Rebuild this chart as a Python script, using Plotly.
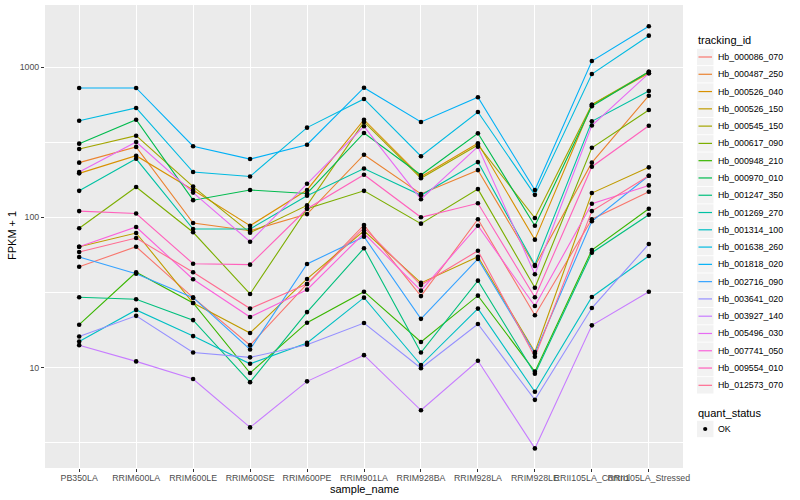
import plotly.graph_objects as go

# ---------------- data (FPKM + 1) ----------------
sample_names = ["PB350LA", "RRIM600LA", "RRIM600LE", "RRIM600SE", "RRIM600PE",
                "RRIM901LA", "RRIM928BA", "RRIM928LA", "RRIM928LE",
                "RRII105LA_Control", "RRII105LA_Stressed"]

tracking_ids = ["Hb_000086_070", "Hb_000487_250", "Hb_000526_040", "Hb_000526_150",
                "Hb_000545_150", "Hb_000617_090", "Hb_000948_210", "Hb_000970_010",
                "Hb_001247_350", "Hb_001269_270", "Hb_001314_100", "Hb_001638_260",
                "Hb_001818_020", "Hb_002716_090", "Hb_003641_020", "Hb_003927_140",
                "Hb_005496_030", "Hb_007741_050", "Hb_009554_010", "Hb_012573_070"]

hb_000086_070 = [46.9, 63.7, 29.2, 14.1, 36.0, 88.9, 29.9, 97.0, 22.3, 97.0, 148]
hb_000487_250 = [231, 294, 91.6, 81.4, 105, 261, 143, 206, 47.4, 231, 644]
hb_000526_040 = [196, 257, 152, 87.9, 152, 446, 186, 311, 71.0, 561, 908]
hb_000526_150 = [63.7, 78.6, 26.9, 17.0, 38.9, 81.4, 36.6, 54.7, 12.7, 145, 215]
hb_000545_150 = [285, 349, 160, 79.0, 120, 431, 182, 303, 98.9, 561, 930]
hb_000617_090 = [84.5, 159, 79.5, 30.9, 114, 150, 90.7, 154, 34.0, 290, 518]
hb_000948_210 = [19.3, 43.1, 26.9, 9.2, 19.9, 32.0, 14.8, 30.1, 9.4, 60.6, 114]
hb_000970_010 = [309, 446, 130, 152, 144, 364, 191, 362, 87.9, 548, 930]
hb_001247_350 = [29.4, 28.5, 20.7, 8.0, 23.4, 62.2, 12.6, 37.9, 9.1, 58.1, 104]
hb_001269_270 = [150, 245, 83.6, 83.6, 139, 211, 140, 233, 48.2, 435, 692]
hb_001314_100 = [14.9, 24.2, 16.2, 10.6, 14.6, 29.2, 10.4, 24.7, 6.9, 29.5, 55.3]
hb_001638_260 = [439, 534, 200, 187, 395, 613, 255, 502, 141, 898, 1616]
hb_001818_020 = [725, 725, 297, 244, 304, 728, 431, 629, 152, 1096, 1866]
hb_002716_090 = [54.4, 42.1, 29.2, 13.2, 48.9, 74.3, 21.1, 52.8, 12.4, 94.1, 189]
hb_003641_020 = [16.1, 22.1, 12.6, 11.7, 14.2, 19.8, 9.9, 19.5, 6.1, 24.9, 66.4]
hb_003927_140 = [14.1, 11.0, 8.4, 4.0, 8.1, 12.1, 5.2, 11.1, 2.9, 19.1, 32.0]
hb_005496_030 = [200, 317, 146, 68.8, 167, 403, 132, 295, 41.8, 408, 908]
hb_007741_050 = [63.7, 86.2, 38.7, 21.7, 33.0, 78.2, 32.5, 87.9, 25.7, 123, 163]
hb_009554_010 = [110, 106, 49.1, 48.4, 114, 192, 100, 124, 29.4, 217, 407]
hb_012573_070 = [58.8, 72.8, 43.1, 24.7, 36.0, 85.3, 35.4, 59.9, 11.8, 110, 189]

y_ticks = [10, 100, 1000]
y_tick_labels = ["10", "100", "1000"]
y_minor = [3.1623, 31.623, 316.23]
quant_status = ["OK"]

series = [hb_000086_070, hb_000487_250, hb_000526_040, hb_000526_150, hb_000545_150,
          hb_000617_090, hb_000948_210, hb_000970_010, hb_001247_350, hb_001269_270,
          hb_001314_100, hb_001638_260, hb_001818_020, hb_002716_090, hb_003641_020,
          hb_003927_140, hb_005496_030, hb_007741_050, hb_009554_010, hb_012573_070]

# ggplot2 hue palette for 20 levels
colors = ["#F8766D", "#EA8331", "#D89000", "#C09B00", "#A3A500", "#7CAE00", "#39B600",
          "#00BB4E", "#00BF7D", "#00C1A3", "#00BFC4", "#00BAE0", "#00B0F6", "#35A2FF",
          "#9590FF", "#C77CFF", "#E76BF3", "#FA62DB", "#FF62BC", "#FF6C91"]

FONT = "Liberation Sans, Arial, Helvetica, sans-serif"
W, H = 800, 500
PL, PR, PT, PB = 45, 683, 5, 468   # panel edges in pixels
PW, PH = PR - PL, PB - PT


def px(x):
    return (x - PL) / PW


def py(y):
    return (PB - y) / PH


fig = go.Figure()
for name, vals, col in zip(tracking_ids, series, colors):
    fig.add_trace(go.Scatter(x=sample_names, y=vals, mode="lines", name=name,
                             line=dict(color=col, width=1.1), showlegend=False,
                             hoverinfo="x+y+name"))

pts_x = [s for vals in series for s in sample_names]
pts_y = [v for vals in series for v in vals]
fig.add_trace(go.Scatter(x=pts_x, y=pts_y, mode="markers", name="OK",
                         marker=dict(color="black", size=4.6, symbol="circle"),
                         showlegend=False))

shapes = []
annotations = []

# legend: tracking_id
annotations.append(dict(text="tracking_id", x=px(696), y=py(40.5), xref="paper", yref="paper",
                        xanchor="left", yanchor="middle", showarrow=False,
                        font=dict(size=11, color="black", family=FONT)))
for i, (name, col) in enumerate(zip(tracking_ids, colors)):
    cy = 57.0 + i * 17.28
    shapes.append(dict(type="rect", xref="paper", yref="paper",
                       x0=px(697), x1=px(713.5), y0=py(cy - 8.2), y1=py(cy + 8.2),
                       fillcolor="#F2F2F2", line=dict(width=0), layer="above"))
    shapes.append(dict(type="line", xref="paper", yref="paper",
                       x0=px(698.5), x1=px(712), y0=py(cy), y1=py(cy),
                       line=dict(color=col, width=1.2), layer="above"))
    annotations.append(dict(text=name, x=px(715.5), y=py(cy), xref="paper", yref="paper",
                            xanchor="left", yanchor="middle", showarrow=False,
                            font=dict(size=8.8, color="black", family=FONT)))

# legend: quant_status
annotations.append(dict(text="quant_status", x=px(696), y=py(412.5), xref="paper", yref="paper",
                        xanchor="left", yanchor="middle", showarrow=False,
                        font=dict(size=11, color="black", family=FONT)))
for j, q in enumerate(quant_status):
    cy = 429.0 + j * 17.28
    shapes.append(dict(type="rect", xref="paper", yref="paper",
                       x0=px(697), x1=px(713.5), y0=py(cy - 8.2), y1=py(cy + 8.2),
                       fillcolor="#F2F2F2", line=dict(width=0), layer="above"))
    shapes.append(dict(type="circle", xref="paper", yref="paper",
                       x0=px(703.1), x1=px(707.3), y0=py(cy - 2.1), y1=py(cy + 2.1),
                       fillcolor="black", line=dict(width=0), layer="above"))
    annotations.append(dict(text=q, x=px(715.5), y=py(cy), xref="paper", yref="paper",
                            xanchor="left", yanchor="middle", showarrow=False,
                            font=dict(size=8.8, color="black", family=FONT)))

# axis titles
annotations.append(dict(text="sample_name", x=0.5, y=py(489), xref="paper", yref="paper",
                        xanchor="center", yanchor="middle", showarrow=False,
                        font=dict(size=11, color="black", family=FONT)))
annotations.append(dict(text="FPKM + 1", x=px(12), y=py(236), xref="paper", yref="paper",
                        xanchor="center", yanchor="middle", showarrow=False, textangle=-90,
                        font=dict(size=11, color="black", family=FONT)))

fig.update_layout(
    width=W, height=H,
    margin=dict(l=PL, r=W - PR, t=PT, b=H - PB, pad=0, autoexpand=False),
    paper_bgcolor="white", plot_bgcolor="#EBEBEB",
    showlegend=False, font=dict(family=FONT),
    shapes=shapes, annotations=annotations,
)
fig.update_xaxes(
    type="category", categoryorder="array", categoryarray=sample_names,
    range=[-0.6, 10.6], showgrid=True, gridcolor="white", gridwidth=1.1,
    ticks="outside", ticklen=3, tickwidth=1, tickcolor="#333333", tickangle=0,
    ticklabelstandoff=-2,
    tickfont=dict(size=8.8, color="#4D4D4D", family=FONT),
    zeroline=False, showline=False,
)
fig.update_yaxes(
    type="log", range=[0.332, 3.4125],
    tickmode="array", tickvals=y_ticks, ticktext=y_tick_labels,
    showgrid=True, gridcolor="white", gridwidth=1.1,
    ticks="outside", ticklen=3, tickwidth=1, tickcolor="#333333",
    tickfont=dict(size=8.8, color="#4D4D4D", family=FONT),
    minor=dict(tickmode="array", tickvals=y_minor, showgrid=True,
               gridcolor="white", gridwidth=0.55, ticks=""),
    zeroline=False, showline=False,
)

fig.write_html("out.html", config={"displayModeBar": False},
               post_script="document.body.style.margin='0';")
